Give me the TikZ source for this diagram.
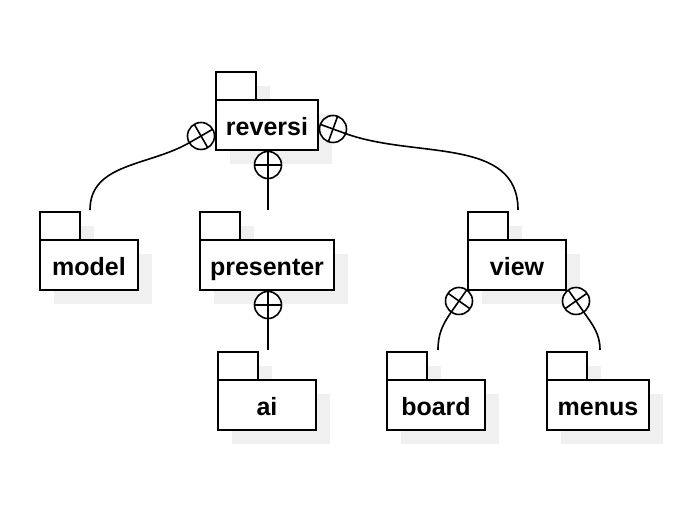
\documentclass[tikz,border=0pt]{standalone}
\usepackage{fontspec}
\setmainfont{Liberation Sans}
\usetikzlibrary{backgrounds}
\begin{document}
\begin{tikzpicture}[x=1pt,y=1pt,
  pkg/.style={draw, fill=white, line width=1.8pt, minimum height=50pt,
    inner sep=0pt, outer sep=0pt, text height=22pt, text depth=0pt,
    font=\bfseries\fontsize{25}{29}\selectfont},
  tab/.style={draw, fill=white, line width=1.8pt},
  pkgshadow/.style={fill=black!6},
  nest/.style={circle, draw, fill=white, line width=1.6pt, minimum size=27pt,
    inner sep=0pt, outer sep=0pt},
  link/.style={line width=1.6pt}]
\useasboundingbox (0,0) rectangle (688,510);

% package bodies
\node[pkg, minimum width=102pt] (reversi)   at (267,385) {reversi};
\node[pkg, minimum width=98pt]  (model)     at (89,245)  {model};
\node[pkg, minimum width=134pt] (presenter) at (267,245) {presenter};
\node[pkg, minimum width=98pt]  (view)      at (517,245) {view};
\node[pkg, minimum width=98pt]  (ai)        at (267,105) {ai};
\node[pkg, minimum width=98pt]  (board)     at (436,105) {board};
\node[pkg, minimum width=102pt] (menus)     at (598,105) {menus};

% package tabs
\foreach \p in {reversi,model,presenter,view,ai,board,menus}
  \draw[tab] (\p.north west) rectangle ++(40,28);

% offset shadows behind body and tab
\begin{scope}[on background layer]
\foreach \p in {reversi,model,presenter,view,ai,board,menus}{
  \fill[pkgshadow] ([shift={(14,-14)}]\p.south west) rectangle ([shift={(14,-14)}]\p.north east);
  \fill[pkgshadow] ([shift={(14,-14)}]\p.north west) rectangle ++(40,28);
}
\end{scope}

% free ends of the containment lines
\coordinate (model-top)     at (90,300);
\coordinate (presenter-top) at (268,300);
\coordinate (view-top)      at (518,300);
\coordinate (ai-top)        at (268,160);
\coordinate (board-top)     at (438,160);
\coordinate (menus-top)     at (600,160);

% nesting circles
\node[nest] (n-model)     at (201,374) {};
\node[nest] (n-view)      at (333,381) {};
\node[nest] (n-presenter) at (268,345) {};
\node[nest] (n-ai)        at (268,205) {};
\node[nest] (n-board)     at (459,209) {};
\node[nest] (n-menus)     at (576,209) {};

% crosses, one arm along each line
\draw[link] (n-model.30) -- (n-model.210) (n-model.120) -- (n-model.300);
\draw[link] (n-view.-20) -- (n-view.160) (n-view.70) -- (n-view.250);
\draw[link] (n-presenter.north) -- (n-presenter.south) (n-presenter.east) -- (n-presenter.west);
\draw[link] (n-ai.north) -- (n-ai.south) (n-ai.east) -- (n-ai.west);
\draw[link] (n-board.235) -- (n-board.55) (n-board.145) -- (n-board.325);
\draw[link] (n-menus.305) -- (n-menus.125) (n-menus.35) -- (n-menus.215);

% containment lines
\draw[link] (model-top) to[out=90,in=210] (n-model.210);
\draw[link] (n-view.-20) to[out=-20,in=90] (view-top);
\draw[link] (n-presenter.south) -- (presenter-top);
\draw[link] (n-ai.south) -- (ai-top);
\draw[link] (n-board.235) to[out=235,in=90] (board-top);
\draw[link] (n-menus.305) to[out=305,in=90] (menus-top);
\end{tikzpicture}
\end{document}
